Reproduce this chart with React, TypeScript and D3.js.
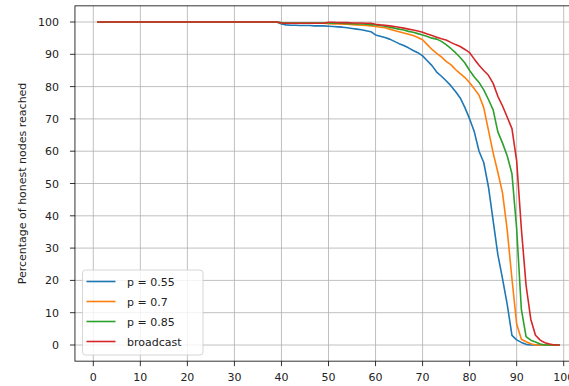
import React from "react";
import * as d3 from "d3";

const xValues: number[] = d3.range(1, 100);

const flat100: number[] = d3.range(1, 40).map(() => 100);

const blueValues: number[] = [
  ...flat100,
  99.4, 99.1, 99.0, 99.0, 98.9, 98.9, 98.9, 98.8, 98.8, 98.8, // 40-49
  98.7, 98.6, 98.5, 98.4, 98.2, 98.0, 97.8, 97.6, 97.3, 97.0, // 50-59
  96.0, 95.6, 95.2, 94.7, 94.0, 93.3, 92.7, 92.0, 91.2, 90.5, // 60-69
  89.5, 88.0, 86.5, 84.5, 83.2, 81.8, 80.3, 78.5, 76.5, 73.5, // 70-79
  70.0, 66.0, 60.0, 56.5, 49.0, 38.5, 28.0, 20.5, 12.5, 3.0, // 80-89
  1.6, 0.8, 0.2, 0, 0, 0, 0, 0, 0, 0, // 90-99
];

const orangeValues: number[] = [
  ...flat100,
  99.7, 99.6, 99.6, 99.6, 99.6, 99.6, 99.6, 99.6, 99.6, 99.6, // 40-49
  99.5, 99.4, 99.4, 99.3, 99.3, 99.2, 99.1, 99.0, 98.9, 98.8, // 50-59
  98.6, 98.4, 98.2, 97.8, 97.4, 97.0, 96.6, 96.2, 95.8, 95.2, // 60-69
  94.5, 93.0, 91.5, 90.3, 89.2, 87.8, 86.8, 85.3, 84.0, 82.8, // 70-79
  81.2, 79.3, 77.3, 73.5, 66.5, 59.5, 53.5, 47.0, 35.5, 20.5, // 80-89
  6.5, 1.8, 1.0, 0.4, 0, 0, 0, 0, 0, 0, // 90-99
];

const greenValues: number[] = [
  ...flat100,
  99.8, 99.7, 99.7, 99.7, 99.7, 99.7, 99.7, 99.7, 99.7, 99.7, // 40-49
  99.7, 99.6, 99.6, 99.6, 99.5, 99.5, 99.4, 99.4, 99.3, 99.2, // 50-59
  99.1, 98.9, 98.7, 98.4, 98.1, 97.8, 97.5, 97.1, 96.8, 96.4, // 60-69
  96.0, 95.5, 95.0, 94.7, 94.0, 93.0, 91.8, 90.5, 89.0, 87.3, // 70-79
  85.0, 83.0, 81.3, 79.0, 76.0, 72.8, 66.0, 62.5, 58.5, 53.0, // 80-89
  36.0, 11.0, 2.6, 1.5, 0.9, 0.3, 0, 0, 0, 0, // 90-99
];

const redValues: number[] = [
  ...flat100,
  99.7, 99.6, 99.6, 99.6, 99.6, 99.6, 99.6, 99.6, 99.6, 99.6, // 40-49
  99.9, 99.9, 99.8, 99.8, 99.8, 99.7, 99.7, 99.7, 99.6, 99.6, // 50-59
  99.3, 99.1, 99.0, 98.8, 98.6, 98.4, 98.1, 97.8, 97.5, 97.2, // 60-69
  96.8, 96.3, 95.8, 95.3, 94.8, 94.4, 93.7, 93.0, 92.4, 91.5, // 70-79
  90.5, 88.5, 86.6, 85.0, 83.5, 81.0, 77.0, 74.0, 70.5, 67.0, // 80-89
  57.0, 36.0, 18.5, 8.0, 3.0, 1.5, 0.7, 0.3, 0, 0, // 90-99
];

const seriesNames: string[] = ["p = 0.55", "p = 0.7", "p = 0.85", "broadcast"];
const seriesColors: string[] = ["#1f77b4", "#ff7f0e", "#2ca02c", "#d62728"];
const seriesValues: number[][] = [blueValues, orangeValues, greenValues, redValues];
const xTicks: number[] = [0, 10, 20, 30, 40, 50, 60, 70, 80, 90, 100];
const yTicks: number[] = [0, 10, 20, 30, 40, 50, 60, 70, 80, 90, 100];
const yLabel = "Percentage of honest nodes reached";

const W = 569;
const H = 386;
const FONT = "DejaVu Sans, sans-serif";

export default function App() {
  const x = d3.scaleLinear().domain([0, 100]).range([93.3, 563.7]);
  const y = d3.scaleLinear().domain([0, 100]).range([345, 22]);
  const left = x(-3.9);
  const right = x(103.9);
  const top = y(105);
  const bottom = y(-5);
  const line = d3
    .line<number>()
    .x((_, i) => x(xValues[i]))
    .y((d) => y(d));

  return (
    <div style={{ position: "absolute", left: 0, top: 0, width: W, height: H, overflow: "hidden", background: "#fff" }}>
      <svg width={W} height={H} style={{ display: "block" }} fontFamily={FONT}>
        <rect x={0} y={0} width={W} height={H} fill="#fff" />
        <defs>
          <clipPath id="plot">
            <rect x={left} y={top} width={right - left} height={bottom - top} />
          </clipPath>
        </defs>
        {xTicks.map((t) => (
          <line key={"gx" + t} x1={x(t)} x2={x(t)} y1={top} y2={bottom} stroke="#b0b0b0" strokeWidth={0.8} />
        ))}
        {yTicks.map((t) => (
          <line key={"gy" + t} x1={left} x2={right} y1={y(t)} y2={y(t)} stroke="#b0b0b0" strokeWidth={0.8} />
        ))}
        <g clipPath="url(#plot)">
          {seriesValues.map((vals, i) => (
            <path
              key={"s" + i}
              d={line(vals) || ""}
              fill="none"
              stroke={seriesColors[i]}
              strokeWidth={1.6}
              strokeLinejoin="round"
              strokeLinecap="square"
            />
          ))}
        </g>
        <rect x={left} y={top} width={right - left} height={bottom - top} fill="none" stroke="#000" strokeWidth={0.8} />
        {xTicks.map((t) => (
          <g key={"tx" + t}>
            <line x1={x(t)} x2={x(t)} y1={bottom} y2={bottom + 5} stroke="#000" strokeWidth={0.8} />
            <text x={x(t)} y={bottom + 20} textAnchor="middle" fontSize={11} fill="#222">
              {t}
            </text>
          </g>
        ))}
        {yTicks.map((t) => (
          <g key={"ty" + t}>
            <line x1={left - 5} x2={left} y1={y(t)} y2={y(t)} stroke="#000" strokeWidth={0.8} />
            <text x={left - 16} y={y(t) + 4} textAnchor="end" fontSize={11} fill="#222">
              {t}
            </text>
          </g>
        ))}
        <text
          transform={`translate(26, ${(top + bottom) / 2}) rotate(-90)`}
          textAnchor="middle"
          fontSize={11}
          fill="#222"
        >
          {yLabel}
        </text>
        <g>
          <rect x={82.5} y={270} width={120.5} height={85} rx={3} fill="#fff" fillOpacity={0.8} stroke="#cccccc" strokeWidth={0.8} />
          {seriesNames.map((n, i) => (
            <g key={"l" + i}>
              <line x1={86.5} x2={115.5} y1={281.5 + i * 20} y2={281.5 + i * 20} stroke={seriesColors[i]} strokeWidth={1.6} />
              <text x={127} y={285.5 + i * 20} fontSize={11} fill="#222">
                {n}
              </text>
            </g>
          ))}
        </g>
      </svg>
    </div>
  );
}
